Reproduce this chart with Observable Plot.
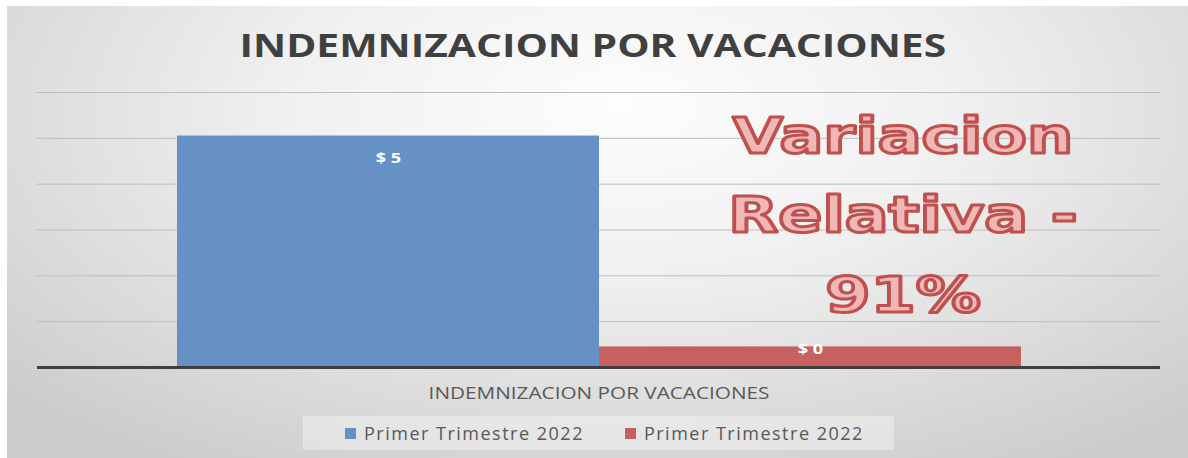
<!DOCTYPE html>
<html>
<head>
<meta charset="utf-8">
<script src="https://cdn.jsdelivr.net/npm/d3@7"></script>
<script src="https://cdn.jsdelivr.net/npm/@observablehq/plot@0.6"></script>
<style>
  html, body { margin: 0; padding: 0; background: #ffffff; }
  #page { position: relative; width: 1188px; height: 458px; overflow: hidden; background: #ffffff; }
  #frame {
    position: absolute; left: 7px; top: 6px; width: 1181px; height: 452px;
    background: radial-gradient(ellipse 72% 95% at 52% 22%, #fdfdfd 0%, #f0f0f0 40%, #dcdcdc 72%, #cbcbcb 100%);
  }
  #title {
    position: absolute; left: 0; top: 28px; width: 1188px; text-align: center;
    font-family: "Open Sans", sans-serif; font-weight: 700; font-size: 33px; line-height: 34px;
    color: #404040; transform: scaleX(1.235); transform-origin: 599px 0;
    white-space: nowrap;
  }
  #chart { position: absolute; left: 0; top: 0; }
  #legend {
    position: absolute; left: 303px; top: 416px; width: 591px; height: 34px;
    background: rgba(255,255,255,0.35);
    display: flex; align-items: center; padding-left: 42px; box-sizing: border-box;
    font-family: "Open Sans", sans-serif; font-size: 18px; color: #595959;
  }
  .item { display: flex; align-items: center; margin-right: 41px; }
  .sw { width: 11px; height: 11px; margin-right: 8px; }
  .lt { letter-spacing: 1.5px; white-space: nowrap; }
</style>
</head>
<body>
<div id="page">
  <div id="frame"></div>
  <div id="chart"></div>
  <div id="title"></div>
  <div id="legend"></div>
</div>
<script>
const chartTitle = "INDEMNIZACION POR VACACIONES";
const categories = ["INDEMNIZACION POR VACACIONES"];
const seriesKeys = ["s1", "s2"];
const seriesLabels = ["Primer Trimestre 2022", "Primer Trimestre 2022"];
const values = [5.05, 0.45];
const valueLabels = ["$ 5", "$ 0"];
const gridValues = [1, 2, 3, 4, 5, 6];
const seriesColors = ["#6591c5", "#c6615f"];
const annotation = "Variacion\nRelativa -\n91%";

const data = seriesKeys.map((k, i) => ({
  cat: categories[0], key: k, value: values[i], label: valueLabels[i]
}));

document.getElementById("title").textContent = chartTitle;

const plot = Plot.plot({
  width: 1188, height: 458,
  marginLeft: 37, marginRight: 28, marginTop: 92, marginBottom: 91,
  style: { background: "transparent", fontFamily: "Open Sans" },
  fx: { domain: categories, padding: 0, label: null },
  x: { domain: seriesKeys, paddingInner: 0, paddingOuter: 0.33, axis: null },
  y: { domain: [0, 6], axis: null },
  color: { domain: seriesKeys, range: seriesColors },
  marks: [
    Plot.ruleY(gridValues, { stroke: "#bdbdbd", strokeWidth: 1 }),
    Plot.barY(data, { fx: "cat", x: "key", y: "value", fill: "key", inset: 0 }),
    Plot.ruleY([0], { stroke: "#3f3f3f", strokeWidth: 3 }),
    Plot.text(data.filter(d => d.value >= 1), {
      fx: "cat", x: "key", y: "value", text: "label", dy: 22,
      fill: "white", fontWeight: "bold", fontSize: 14
    }),
    Plot.text(data.filter(d => d.value < 1), {
      fx: "cat", x: "key", y: "value", text: "label", dy: 3,
      fill: "white", fontWeight: "bold", fontSize: 14
    }),
    Plot.text([annotation], {
      frameAnchor: "top", dx: 304, dy: 4, lineAnchor: "top", lineHeight: 1.59,
      fontSize: 50, fontFamily: "DejaVu Sans", fontWeight: "bold",
      fill: "#efb7b6", stroke: "#c0504d", strokeWidth: 3, paintOrder: "normal",
      ariaLabel: "annotation"
    }),
    Plot.axisFx({ anchor: "bottom", tickSize: 0, tickPadding: 19, fontSize: 17, fill: "#595959", label: null })
  ]
});
document.getElementById("chart").appendChild(plot);

// stretch text horizontally to match the reference proportions
d3.select(plot).selectAll("g[aria-label='annotation'] text").each(function() {
  const t = this.getAttribute("transform") || "";
  this.setAttribute("transform", t + " scale(1.08,1)");
});
d3.select(plot).selectAll("g[aria-label='fx-axis tick label'] text").each(function() {
  const t = this.getAttribute("transform") || "";
  this.setAttribute("transform", t + " scale(1.22,1)");
});
d3.select(plot).selectAll("g[aria-label='text'] text").each(function() {
  const t = this.getAttribute("transform") || "";
  this.setAttribute("transform", t + " scale(1.3,1)");
});

const legend = document.getElementById("legend");
seriesLabels.forEach((lab, i) => {
  const item = document.createElement("div");
  item.className = "item";
  const sw = document.createElement("span");
  sw.className = "sw"; sw.style.background = seriesColors[i];
  const lt = document.createElement("span");
  lt.className = "lt"; lt.textContent = lab;
  item.appendChild(sw); item.appendChild(lt);
  legend.appendChild(item);
});
</script>
</body>
</html>
